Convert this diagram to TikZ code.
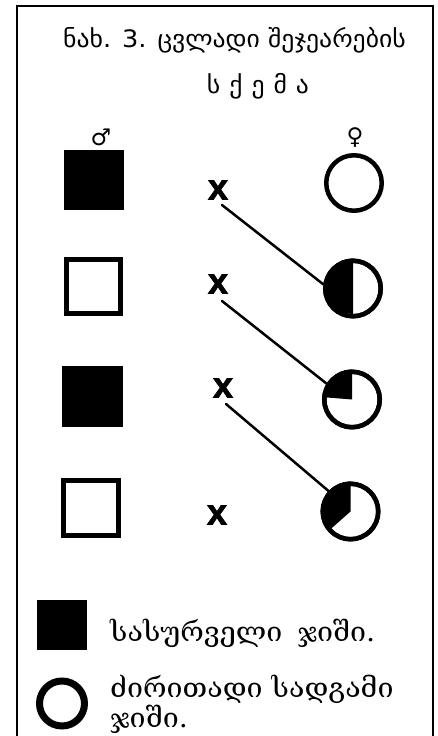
\documentclass[tikz,border=0pt]{standalone}
\usepackage{fontspec}
\setmainfont{DejaVu Sans}
\newfontfamily\geotitle[FakeStretch=1.07]{DejaVu Sans}
\newfontfamily\geoserif[FakeStretch=1.06]{DejaVu Serif}
\newfontfamily\xfont[BoldFeatures={FakeBold=2}]{Liberation Sans}
\begin{document}
\begin{tikzpicture}[x=1pt,y=1pt,
  frame/.style={line width=2.5pt},
  fillsq/.style={rectangle, fill=black, draw=none, inner sep=0pt},
  opensq/.style={rectangle, draw=black, line width=5pt, fill=white, inner sep=0pt},
  ring/.style={circle, draw=black, line width=4.5pt, inner sep=0pt, minimum size=55.5pt},
  cross/.style={font=\xfont\bfseries\fontsize{36}{36}\selectfont, inner sep=0pt},
  link/.style={line width=2.5pt, line cap=round},
  title/.style={font=\geotitle\fontsize{24}{26}\selectfont, inner sep=0pt, anchor=base},
  sym/.style={font=\fontsize{23}{23}\selectfont, inner sep=0pt},
  legend/.style={font=\geoserif\fontsize{27}{25}\selectfont, inner sep=0pt, anchor=base west, align=left}
]
\useasboundingbox (0,0) rectangle (438,736);
\clip (0,0) rectangle (438,736);
% frame
\draw[frame] (17,-20) rectangle (433,730);
% title
\node[title] (t1) at (234.5,688) {ნახ. 3. ცვლადი შეჯეარების};
\node[title] (t2) at (258,642) {ს\hspace{9pt}ქ\hspace{9pt}ე\hspace{9pt}მ\hspace{9pt}ა};
% sex symbols
\node[sym] (male) at (101,599) {♂};
\node[sym] (female) at (355,598) {♀};
% row 1
\node[fillsq, minimum size=60pt] (s1) at (94,556) {};
\node[ring] (c1) at (354,553) {};
\node[cross] (x1) at (218,546) {x};
% row 2
\node[opensq, minimum size=54pt] (s2) at (93.5,449.5) {};
\node[ring] (c2) at (353,447.5) {};
\fill (c2.center) -- (c2.north) arc[start angle=90, end angle=270, radius=27.75pt] -- cycle;
\node[ring] at (c2) {};
\node[cross] (x2) at (218,452) {x};
% row 3
\node[fillsq, minimum size=61pt] (s3) at (92.5,339) {};
\node[ring] (c3) at (352,336.5) {};
\fill (c3.center) -- (c3.north) arc[start angle=90, end angle=180, radius=27.75pt] -- cycle;
\node[ring] at (c3) {};
\node[cross] (x3) at (223,348) {x};
% row 4
\node[opensq, minimum size=55pt] (s4) at (91,228) {};
\node[ring] (c4) at (350.5,224.5) {};
\fill (c4.center) -- (c4.north) arc[start angle=90, end angle=225, radius=27.75pt] -- cycle;
\node[ring] at (c4) {};
\node[cross] (x4) at (217,221) {x};
% connectors
\coordinate (l1s) at (222,531);
\coordinate (l2s) at (222,435);
\coordinate (l3s) at (226,332);
\draw[link] (l1s) -- (c2.172);
\draw[link] (l2s) -- (c3.148);
\draw[link] (l3s) -- (c4.137);
% legend
\node[fillsq, minimum size=50pt] (ls) at (62,110.5) {};
\node[circle, draw=black, line width=7pt, minimum size=45pt, inner sep=0pt] (lc) at (62,32.5) {};
\node[legend] (lt1) at (110,94) {სასურველი\hspace{6pt} ჯიში.};
\node[legend] (lt2) at (110,9) {ძირითადი სადგამი\\ჯიში.};
\end{tikzpicture}
\end{document}
